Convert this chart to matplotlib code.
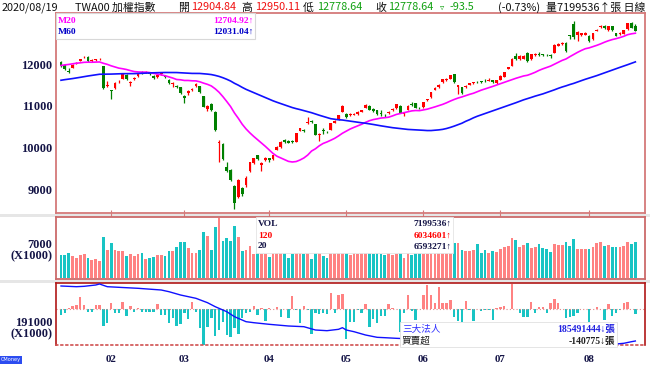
import numpy as np
import matplotlib
matplotlib.use('Agg')
import matplotlib.pyplot as plt
from matplotlib.patches import Rectangle

W, H = 650, 375

# ---------------- data ----------------
month_labels = ['02', '03', '04', '05', '06', '07', '08']
month_start_idx = [13, 32, 54, 74, 94, 114, 137]

# closes before the first visible day (needed for the moving averages)
prior_closes = [11000, 11100, 11150, 11180, 11150, 11160, 11200, 11230, 11290, 11320, 11380, 11340, 11330, 11360,
                11400, 11550, 11600, 11560, 11600, 11520, 11560, 11520, 11480, 11540, 11560, 11620, 11620, 11550,
                11520, 11540, 11620, 11620, 11650, 11560, 11490,
                11420, 11460, 11480, 11550, 11610, 11580, 11620, 11650, 11750, 11927, 11930, 12020, 12120, 12060,
                12050, 12070, 12010, 12050, 12110, 12130, 12050, 11997,
                12100, 12110]

opens = [12040, 11975, 11840, 11910, 11995, 12070, 12160, 12170, 12060, 12100,
         12110, 11950, 11470, 11380, 11420, 11560, 11640, 11740, 11540, 11640,
         11715, 11800, 11800, 11790, 11720, 11680, 11760, 11720, 11620, 11520,
         11480, 11450, 11230, 11300, 11380, 11480, 11470, 11230, 10920, 11040,
         10860, 10100, 10080, 9545, 9460, 9090, 8830, 9040, 9100, 9440,
         9640, 9820, 9590, 9700, 9740, 9720, 9950, 10010, 10180, 10160,
         10160, 10140, 10400, 10420, 10580, 10630, 10560, 10300, 10430, 10385,
         10420, 10600, 10660, 10845, 10800, 10775, 10790, 10800, 10860, 10950,
         11000, 10930, 10900, 10830, 10790, 10820, 10890, 10945, 11000, 10800,
         10900, 11050, 11060, 10950, 10960, 11130, 11200, 11380, 11440, 11560,
         11620, 11650, 11750, 11460, 11450, 11440, 11500, 11540, 11570, 11590,
         11600, 11600, 11610, 11540, 11620, 11700, 11890, 11960, 12200, 12120,
         12130, 12260, 12110, 12220, 12240, 12230, 12220, 12215, 12270, 12440,
         12470, 12510, 12690, 12960, 12700, 12700, 12700, 12670, 12590, 12790,
         12880, 12915, 12810, 12900, 12730, 12720, 12720, 12830, 12990, 12904.84]
highs = [12060, 11990, 11900, 11990, 12050, 12130, 12197, 12180, 12110, 12120,
         12150, 11960, 11600, 11390, 11580, 11620, 11780, 11750, 11600, 11690,
         11780, 11830, 11830, 11800, 11730, 11760, 11810, 11740, 11630, 11560,
         11490, 11460, 11250, 11380, 11420, 11540, 11480, 11240, 11030, 11060,
         10870, 10180, 10100, 9660, 9480, 9100, 9250, 9050, 9310, 9660,
         9760, 9830, 9650, 9770, 9760, 9830, 10030, 10150, 10200, 10180,
         10180, 10350, 10480, 10440, 10725, 10650, 10570, 10340, 10480, 10400,
         10600, 10650, 10790, 11010, 10830, 10820, 10830, 10870, 10910, 11050,
         11010, 10950, 10910, 10890, 10810, 10880, 10940, 11050, 11010, 10850,
         11010, 11080, 11070, 10970, 11100, 11170, 11340, 11440, 11510, 11640,
         11670, 11740, 11760, 11500, 11460, 11490, 11550, 11580, 11590, 11600,
         11650, 11660, 11620, 11620, 11730, 11820, 11940, 12140, 12270, 12210,
         12220, 12280, 12240, 12260, 12290, 12250, 12240, 12230, 12470, 12500,
         12520, 12520, 12700, 13030, 12790, 12750, 12760, 12690, 12740, 12830,
         12930, 12930, 12920, 12910, 12750, 12760, 12820, 12980, 13010, 12950.11]
lows = [11940, 11860, 11780, 11900, 11990, 12060, 12140, 12050, 12040, 12080,
        12100, 11400, 11450, 11160, 11400, 11540, 11630, 11620, 11480, 11620,
        11700, 11770, 11780, 11740, 11640, 11670, 11740, 11670, 11520, 11460,
        11420, 11280, 11060, 11260, 11350, 11460, 11300, 10960, 10876, 10880,
        10400, 9660, 9700, 9420, 9200, 8523, 8800, 8850, 9050, 9420,
        9620, 9700, 9450, 9680, 9660, 9700, 9940, 9990, 10110, 10100,
        10110, 10130, 10390, 10380, 10570, 10590, 10290, 10160, 10330, 10350,
        10410, 10590, 10650, 10840, 10720, 10760, 10770, 10790, 10850, 10940,
        10890, 10860, 10790, 10760, 10740, 10810, 10880, 10930, 10820, 10750,
        10890, 11000, 10940, 10930, 10950, 11120, 11190, 11370, 11430, 11550,
        11600, 11640, 11550, 11290, 11290, 11430, 11490, 11530, 11540, 11550,
        11570, 11590, 11540, 11530, 11610, 11690, 11880, 11950, 12100, 12100,
        12110, 12050, 12100, 12200, 12200, 12190, 12190, 12140, 12260, 12430,
        12450, 12290, 12600, 12600, 12540, 12680, 12690, 12530, 12580, 12780,
        12870, 12840, 12800, 12800, 12660, 12700, 12710, 12820, 12860, 12778.64]
closes = [11954, 11880, 11817, 11970, 12025, 12113, 12179, 12080, 12092, 12110,
          12130, 11430, 11500, 11360, 11555, 11574, 11750, 11630, 11575, 11664,
          11774, 11790, 11816, 11760, 11660, 11740, 11792, 11690, 11540, 11545,
          11440, 11295, 11180, 11350, 11400, 11530, 11321, 10977, 11003, 10893,
          10422, 10128, 9717, 9439, 9218, 8681, 9234, 8890, 9285, 9644,
          9740, 9730, 9629, 9740, 9700, 9818, 10010, 10140, 10130, 10120,
          10130, 10340, 10460, 10400, 10620, 10610, 10300, 10330, 10400, 10365,
          10580, 10630, 10780, 11000, 10740, 10800, 10810, 10860, 10900, 11030,
          10910, 10880, 10800, 10810, 10770, 10860, 10920, 11035, 10830, 10830,
          11000, 11010, 10950, 10940, 11090, 11160, 11330, 11430, 11500, 11630,
          11650, 11730, 11560, 11490, 11310, 11470, 11540, 11560, 11560, 11570,
          11590, 11620, 11560, 11610, 11720, 11810, 11930, 12130, 12120, 12200,
          12200, 12060, 12230, 12240, 12225, 12215, 12205, 12200, 12460, 12490,
          12500, 12300, 12660, 12640, 12760, 12730, 12740, 12540, 12730, 12810,
          12900, 12855, 12915, 12810, 12670, 12740, 12810, 12970, 12872, 12778.64]

volume_k = [4630, 4570, 4960, 4440, 4110, 4630, 4770, 3980, 3710, 3780,
            3450, 8250, 5620, 6940, 5620, 5360, 5360, 4500, 4830, 4500,
            4900, 4960, 3780, 4110, 4300, 4630, 4630, 4440, 5360, 5360,
            6150, 7130, 7130, 5950, 4960, 4960, 5550, 9240, 8380, 5620,
            10220, 11860, 7460, 8050, 7460, 10350, 8250, 5360, 5620, 6410,
            4830, 6500, 4770, 4770, 4170, 6200, 6100, 6400, 5900, 4110,
            4770, 6300, 6600, 4770, 6200, 3840, 6500, 6100, 4500, 3980,
            6200, 6400, 6300, 6800, 6900, 4630, 5800, 4770, 6000, 6100,
            6200, 4770, 5900, 4770, 4630, 5800, 4630, 4770, 6100, 4110,
            6000, 4630, 6100, 5900, 4830, 4830, 6200, 6500, 6600, 6800,
            6700, 6900, 7000, 6940, 5620, 5420, 5360, 5620, 6800, 4960,
            5620, 4960, 5360, 5290, 5750, 6280, 6410, 7920, 7590, 6280,
            6610, 7070, 6080, 6150, 6740, 5950, 5750, 5160, 6740, 6540,
            6540, 7270, 6410, 7730, 5820, 5820, 5750, 5750, 6150, 7070,
            7200, 6410, 6540, 6280, 6280, 6150, 6410, 7270, 6800, 7199.536]

# 三大法人 net buy / sell, thousand lots
net_buy_k = [-170, -100, 50, 100, 130, 360, 130, -90, -70, 140,
             140, -490, -400, 200, -120, -100, 230, -200, 100, -90,
             50, -70, -90, -70, -70, 150, -170, -170, -420, -270,
             -490, -450, -120, -300, 230, -70, -570, -1100, -520, -270,
             -800, -620, -370, -770, -840, -570, -750, -270, -120, -70,
             100, -170, 30, -340, 30, 20, 60, -220, 20, -270,
             400, -30, -420, 100, -30, -740, -120, -140, -120, -140,
             500, -120, 430, 450, -900, -370, -370, -20, -120, 160,
             -520, -300, -420, -190, -200, 150, 40, 20, -670, -120,
             430, -40, -320, 20, 430, 730, 430, 200, 680, 180,
             180, 280, -220, -340, -370, 260, -30, -340, 20, -40,
             -10, -20, -320, 50, 60, 100, 20, 760, 20, -120,
             -220, -220, 230, -120, 80, 60, -120, 180, 300, 200,
             20, -270, -220, -200, -120, 20, 20, -370, 20, 80,
             20, -320, 160, -200, -120, -20, 200, 230, 20, -140.775]

# 三大法人 holdings (thousand lots), read at these trading-day indices
holdings_idx = [0, 4, 6, 9, 10, 12, 15, 20, 26, 28, 31, 35, 38, 40, 43, 45, 48, 50, 54, 59,
                63, 66, 69, 72, 73, 74, 76, 79, 82, 84, 87, 95, 110, 125, 140, 144, 146, 148, 149]
holdings_k = [201440, 201240, 201350, 201730, 202020, 201240, 201060, 200770, 200280, 199790,
              198830, 197870, 196600, 195440, 193990, 192540, 191090, 190800, 190330, 189840,
              189640, 188680, 188480, 188880, 189350, 188680, 188190, 187230, 186560, 186450,
              186270, 185900, 185500, 185100, 184700, 184620, 184820, 185290, 185491]

price_ticks = [9000, 10000, 11000, 12000]
vol_tick = 7000
hold_tick = 191000

quote_date = '2020/08/19'
quote_name = 'TWA00 加權指數'
q_open, q_high, q_low, q_close = '12904.84', '12950.11', '12778.64', '12778.64'
q_chg, q_pct, q_vol = '-93.5', '(-0.73%)', '7199536'
ma20_text, ma60_text = '12704.92↑', '12031.04↑'
vol_text, vol120_text, vol20_text = '7199536↑', '6034601↑', '6593271↑'
hold_text, net_text = '185491444↓張', '-140775↓張'

# ---------------- figure ----------------
fig = plt.figure(figsize=(W / 100, H / 100), dpi=100)
fig.patch.set_facecolor('white')

SERIF = ['Liberation Serif', 'DejaVu Serif']
CJK = ['Noto Sans CJK TC', 'DejaVu Sans']
NAVY = '#141446'
RED = '#ff0000'
GREEN = '#008000'
PINK = '#ff8282'
TEAL = '#18c4c4'
AXFS = 8.9


def add_axes_px(x0, y0, x1, y1):
    return fig.add_axes([x0 / W, 1 - y1 / H, (x1 - x0) / W, (y1 - y0) / H])


def rect_px(x0, y0, x1, y1, **kw):
    r = Rectangle((x0 / W, 1 - y1 / H), (x1 - x0) / W, (y1 - y0) / H,
                  transform=fig.transFigure, **kw)
    fig.add_artist(r)
    return r


def ftxt(x, y, s, **kw):
    kw.setdefault('va', 'center')
    kw.setdefault('zorder', 10)
    return fig.text(x / W, 1 - y / H, s, **kw)


# separator bands
rect_px(0, 213.5, 650, 217, facecolor='#e6e6e6', edgecolor='none', zorder=-1)
rect_px(0, 279.5, 650, 283, facecolor='#e6e6e6', edgecolor='none', zorder=-1)

n = len(closes)
x = np.arange(n)
xlim = (-1.3, 151.5)

o = np.array(opens, float)
c = np.array(closes, float)
hi = np.array(highs, float)
lo = np.array(lows, float)
up = c >= o
col = np.where(up, RED, GREEN)

all_c = np.array(prior_closes + closes, float)
npre = len(prior_closes)
m20 = np.array([all_c[k - 19:k + 1].mean() for k in range(npre, npre + n)])
m60 = np.array([all_c[k - 59:k + 1].mean() for k in range(npre, npre + n)])

# ---- price panel ----
ax_p = add_axes_px(56, 13, 645, 213)
ax_p.set_xlim(*xlim)
ax_p.set_ylim(8436, 13220)
ax_p.vlines(x, lo, hi, colors=col, lw=0.9, zorder=2)
body_h = np.maximum(np.abs(c - o), 14)
ax_p.bar(x, body_h, bottom=np.minimum(o, c), width=0.72, color=col, lw=0, zorder=3)
ax_p.plot(x, m20, color='#ff00ff', lw=1.2, zorder=4)
ax_p.plot(x, m60, color='#1010ff', lw=1.2, zorder=4)
ax_p.set_yticks(price_ticks, [str(t) for t in price_ticks], fontsize=AXFS,
                fontweight='bold', family=SERIF, color=NAVY)
ax_p.set_xticks(month_start_idx)
ax_p.tick_params(axis='y', length=0, pad=2.5)
ax_p.tick_params(axis='x', length=4, direction='inout', color='#d47a7a', labelbottom=False)
for s in ax_p.spines.values():
    s.set_color('#d47a7a')
    s.set_linewidth(1.3)

# ---- volume panel ----
ax_v = add_axes_px(56, 217, 645, 279)
ax_v.set_xlim(*xlim)
ax_v.set_ylim(-100, 12128)
ax_v.bar(x, volume_k, width=0.72, color=np.where(up, PINK, TEAL), lw=0)
ax_v.set_xticks([])
ax_v.set_yticks([vol_tick], [str(vol_tick)], fontsize=AXFS, fontweight='bold',
                family=SERIF, color=NAVY)
ax_v.tick_params(axis='y', length=0, pad=2.5)
for s in ax_v.spines.values():
    s.set_color('#cc6a6a')
    s.set_linewidth(1.3)

# ---- institutional panel ----
ax_c = add_axes_px(56, 283, 645, 345)
ax_c.set_xlim(*xlim)
ax_c.set_ylim(-1071, 789)
nb = np.array(net_buy_k, float)
ax_c.bar(x, nb, width=0.62, color=np.where(nb >= 0, PINK, TEAL), lw=0)
ax_c.axhline(0, color='#e08a8a', lw=0.8, ls=(0, (1, 2)))
ax_c.set_yticks([])
ax_c.set_xticks(month_start_idx, month_labels, fontsize=7.8, fontweight='bold',
                family=SERIF, color=NAVY)
ax_c.tick_params(axis='x', length=0, pad=7)
for s in ax_c.spines.values():
    s.set_color('#b01818')
    s.set_linewidth(1.2)
ax_c.spines['bottom'].set_linestyle((0, (1, 2)))
ax_c.spines['bottom'].set_color('#d05050')

ax_h = ax_c.twinx()
ax_h.set_ylim(184330, 202310)
ax_h.plot(holdings_idx, holdings_k, color='#1010ff', lw=1.0)
ax_h.yaxis.tick_left()
ax_h.set_yticks([hold_tick], [str(hold_tick)], fontsize=AXFS, fontweight='bold',
                family=SERIF, color=NAVY)
ax_h.tick_params(axis='y', length=0, pad=2.5)
for s in ax_h.spines.values():
    s.set_visible(False)

ftxt(53, 256.5, '(X1000)', ha='right', fontsize=AXFS, fontweight='bold', family=SERIF, color=NAVY)
ftxt(53, 334, '(X1000)', ha='right', fontsize=AXFS, fontweight='bold', family=SERIF, color=NAVY)

# ---- legend boxes ----
rect_px(56, 13, 255, 39, facecolor='white', edgecolor='#d8d8d8', lw=0.8, zorder=8)
ftxt(58, 21, 'M20', ha='left', fontsize=6.8, fontweight='bold', family=SERIF, color='#ff00ff')
ftxt(254, 21, ma20_text, ha='right', fontsize=6.8, fontweight='bold', family=SERIF, color='#ff00ff')
ftxt(58, 31.5, 'M60', ha='left', fontsize=6.8, fontweight='bold', family=SERIF, color='#0000c8')
ftxt(254, 31.5, ma60_text, ha='right', fontsize=6.8, fontweight='bold', family=SERIF, color='#0000c8')

rect_px(256, 216.5, 453, 252.5, facecolor='white', edgecolor='#e4e4e4', lw=0.6, zorder=8)
ftxt(258, 224, 'VOL', ha='left', fontsize=6.8, fontweight='bold', family=SERIF, color=NAVY)
ftxt(258, 235.5, '120', ha='left', fontsize=6.8, fontweight='bold', family=SERIF, color=RED)
ftxt(258, 246.5, '20', ha='left', fontsize=6.8, fontweight='bold', family=SERIF, color=NAVY)
ftxt(452, 224, vol_text, ha='right', fontsize=6.8, fontweight='bold', family=SERIF, color=NAVY)
ftxt(452, 235.5, vol120_text, ha='right', fontsize=6.8, fontweight='bold', family=SERIF, color=RED)
ftxt(452, 246.5, vol20_text, ha='right', fontsize=6.8, fontweight='bold', family=SERIF, color=NAVY)

rect_px(400, 322, 617, 347, facecolor='white', edgecolor='#e0e0e0', lw=0.6, zorder=8)
ftxt(402, 329, '三大法人', ha='left', fontsize=6.9, family=CJK, color='#3030ff')
ftxt(615, 329, hold_text, ha='right', fontsize=6.9, fontweight='bold',
     family=['Liberation Serif', 'Noto Sans CJK TC'], color='#2020e0')
ftxt(402, 341, '買賣超', ha='left', fontsize=6.9, family=CJK, color='#202020')
ftxt(615, 341, net_text, ha='right', fontsize=6.9, fontweight='bold',
     family=['Liberation Serif', 'Noto Sans CJK TC'], color='#202020')

# ---- header ----
HFS = 7.8
ftxt(2, 7.5, quote_date, ha='left', fontsize=HFS, family=CJK, color='#101010')
ftxt(75, 7.5, quote_name, ha='left', fontsize=HFS, family=CJK, color='#101010')
ftxt(178, 7.5, '開', ha='left', fontsize=HFS, family=CJK, color='#101010')
ftxt(191, 7.5, q_open, ha='left', fontsize=HFS, family=CJK, color='#f01010')
ftxt(241, 7.5, '高', ha='left', fontsize=HFS, family=CJK, color='#101010')
ftxt(255, 7.5, q_high, ha='left', fontsize=HFS, family=CJK, color='#f01010')
ftxt(303, 7.5, '低', ha='left', fontsize=HFS, family=CJK, color='#101010')
ftxt(317, 7.5, q_low, ha='left', fontsize=HFS, family=CJK, color='#10a010')
ftxt(375, 7.5, '收', ha='left', fontsize=HFS, family=CJK, color='#101010')
ftxt(388, 7.5, q_close, ha='left', fontsize=HFS, family=CJK, color='#10a010')
ftxt(440, 7.5, '▿', ha='left', fontsize=6, family=['DejaVu Sans'], color='#10a010')
ftxt(449, 7.5, q_chg, ha='left', fontsize=HFS, family=CJK, color='#10a010')
ftxt(498, 7.5, q_pct, ha='left', fontsize=HFS, family=CJK, color='#101010')
ftxt(545, 7.5, '量', ha='left', fontsize=HFS, family=CJK, color='#101010')
ftxt(557, 7.5, q_vol + '↑張 日線', ha='left', fontsize=HFS, family=CJK, color='#101010')

# logo
ftxt(1, 360, 'CMoney', ha='left', fontsize=3.6, family=['DejaVu Sans'], color='white',
     bbox=dict(boxstyle='square,pad=0.25', facecolor='#2c4cf0', edgecolor='none'))

fig.savefig('out.png', dpi=100, facecolor='white')
